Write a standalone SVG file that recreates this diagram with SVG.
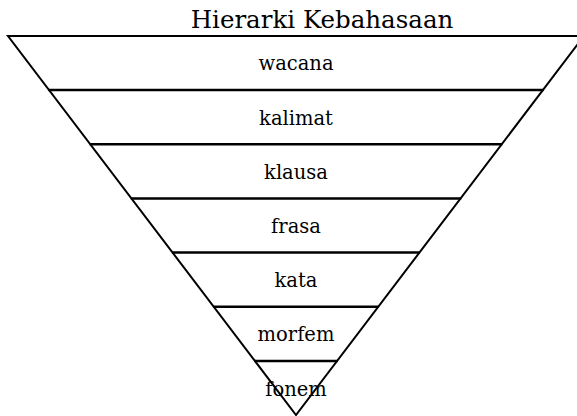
<svg xmlns="http://www.w3.org/2000/svg" width="577" height="416" viewBox="0 0 577 416">
<style>
.edge{stroke:#000;stroke-width:2;fill:none;stroke-linecap:butt}
.div{stroke:#000;stroke-width:2.5;fill:none;stroke-linecap:butt}
.lbl{font-family:"DejaVu Serif","Liberation Serif",serif;font-size:19.5px;fill:#000;text-anchor:middle}
.title{font-family:"DejaVu Serif","Liberation Serif",serif;font-size:24.5px;fill:#000;text-anchor:middle}
</style>
<rect width="577" height="416" fill="#fff"/>
<text class="title" x="322" y="28">Hierarki Kebahasaan</text>
<g id="connectors">
<polygon class="edge" points="8,36 584,36 296,415"/>
<line class="div" x1="48.5" y1="90.1" x2="543.5" y2="90.1"/>
<line class="div" x1="89.7" y1="144.3" x2="502.3" y2="144.3"/>
<line class="div" x1="130.8" y1="198.4" x2="461.2" y2="198.4"/>
<line class="div" x1="172" y1="252.6" x2="420" y2="252.6"/>
<line class="div" x1="213.1" y1="306.7" x2="378.9" y2="306.7"/>
<line class="div" x1="254.3" y1="360.9" x2="337.7" y2="360.9"/>
</g>
<g id="wacana"><text class="lbl" x="296" y="70">wacana</text></g>
<g id="kalimat"><text class="lbl" x="296" y="125">kalimat</text></g>
<g id="klausa"><text class="lbl" x="296" y="179">klausa</text></g>
<g id="frasa"><text class="lbl" x="296" y="233">frasa</text></g>
<g id="kata"><text class="lbl" x="296" y="287">kata</text></g>
<g id="morfem"><text class="lbl" x="296" y="341">morfem</text></g>
<g id="fonem"><text class="lbl" x="296" y="396">fonem</text></g>
</svg>
